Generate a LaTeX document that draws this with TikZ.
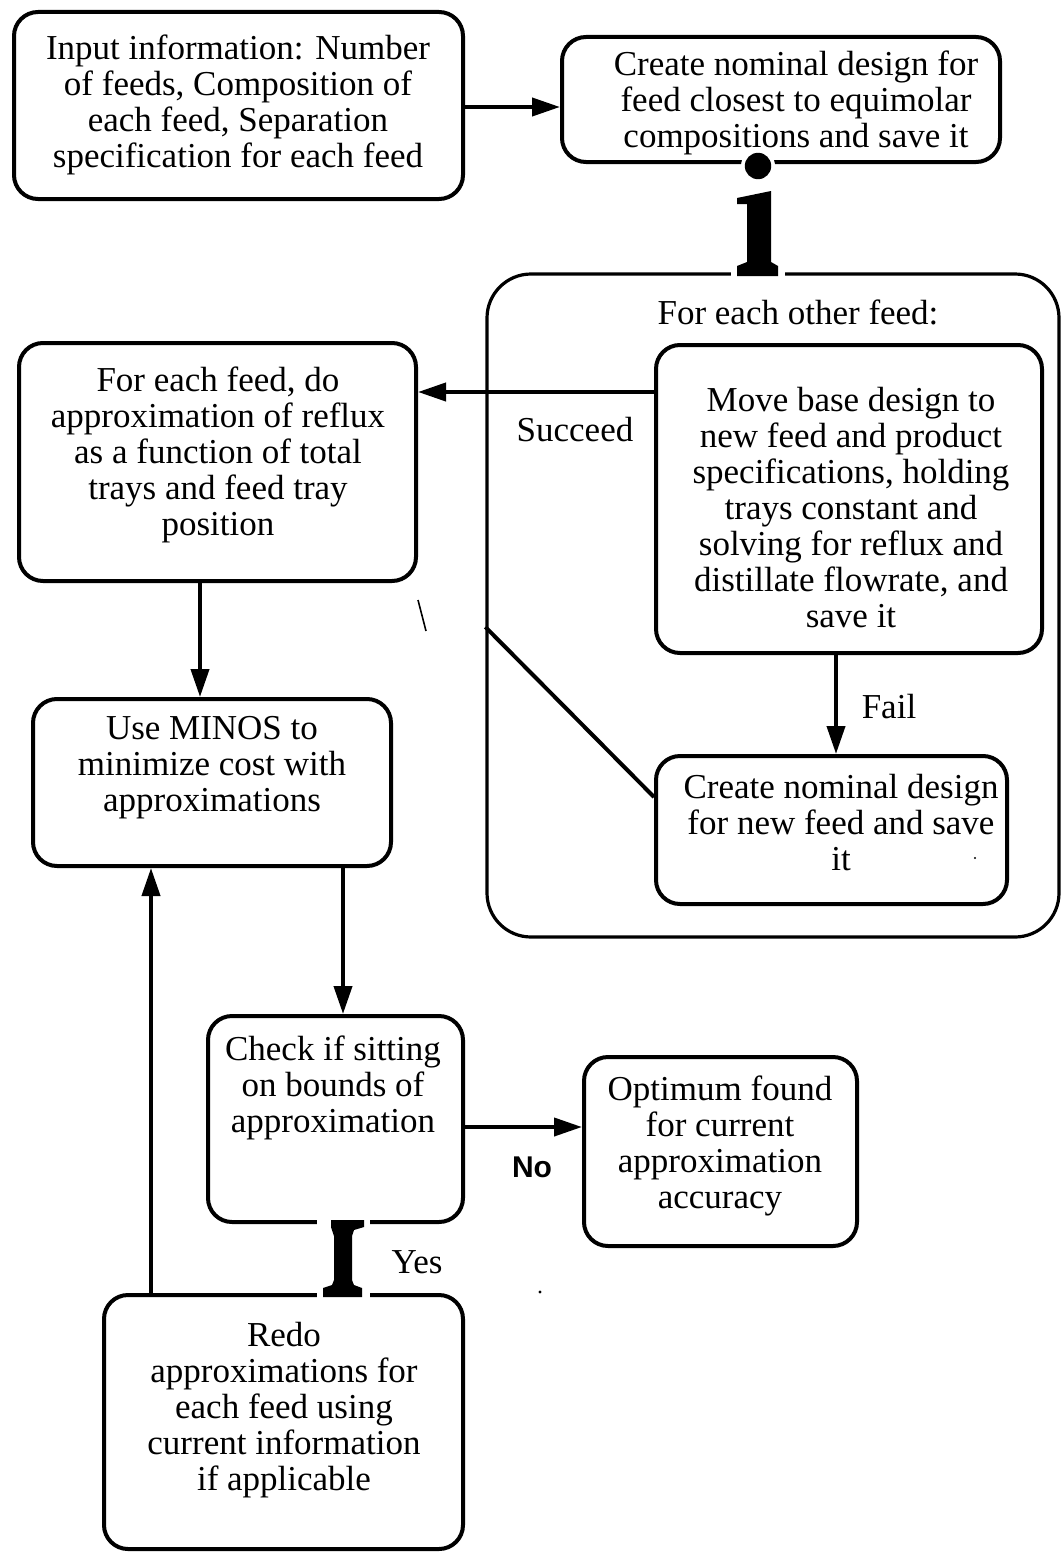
\documentclass[tikz,border=0pt]{standalone}
\usepackage{fontspec}
\setmainfont{Liberation Serif}
\newfontfamily\labelsans{Liberation Sans}
\usetikzlibrary{arrows.meta,fit}

\begin{document}
\begin{tikzpicture}[x=0.5pt,y=-0.5pt,
  box/.style={draw, line width=2pt, rounded corners=12pt, inner sep=0pt},
  groupbox/.style={draw, line width=1.6pt, rounded corners=22pt, inner sep=0pt},
  txt/.style={align=center, inner sep=0pt, font=\fontsize{17.5}{18}\selectfont},
  tag/.style={inner sep=0pt, font=\fontsize{17.5}{18}\selectfont},
  flow/.style={line width=2pt, -{Triangle[length=14pt,width=9pt]}},
  link/.style={line width=2pt},
]
\fill[white] (0,0) rectangle (1062,1552);
\useasboundingbox (0,0) rectangle (1062,1552);

% boxes
\node[box, fit={(14,12) (463,199)}] (inp) {};
\node[box, fit={(562,37) (1000,162)}] (nom) {};
\node[groupbox, fit={(487,274) (1059,937)}] (grp) {};
\node[box, fit={(19,343) (416,581)}] (appr) {};
\node[box, fit={(656,345) (1042,653)}] (move) {};
\node[box, fit={(656,756) (1007,904)}] (newd) {};
\node[box, fit={(33,699) (391,866)}] (minos) {};
\node[box, fit={(208,1016) (463,1222)}] (check) {};
\node[box, fit={(584,1057) (857,1246)}] (opt) {};
\node[box, fit={(104,1295) (463,1549)}] (redo) {};

% box texts
\node[txt] (t-inp) at (238,105) {Input information: Number\\of feeds, Composition of\\each feed, Separation\\specification for each feed};
\node[txt] (t-nom) at (796,103) {Create nominal design for\\feed closest to equimolar\\compositions and save it};
\node[tag] (t-grp) at (798,312) {For each other feed:};
\node[txt] (t-appr) at (218,455) {For each feed, do\\approximation of reflux\\as a function of total\\trays and feed tray\\position};
\node[txt] (t-move) at (851,508) {Move base design to\\new feed and product\\specifications, holding\\trays constant and\\solving for reflux and\\distillate flowrate, and\\save it};
\node[txt] (t-newd) at (841,823) {Create nominal design\\for new feed and save\\it};
\node[txt] (t-minos) at (212,768) {Use MINOS to\\minimize cost with\\approximations};
\node[txt] (t-check) at (333,1088) {Check if sitting\\on bounds of\\approximation};
\node[txt] (t-opt) at (720,1146) {Optimum found\\for current\\approximation\\accuracy};
\node[txt] (t-redo) at (284,1410) {Redo\\approximations for\\each feed using\\current information\\if applicable};

% connectors
\draw[flow] (inp.east |- 0,107) -- (nom.west |- 0,107);
\draw[flow] (move.west |- 0,392) -- (appr.east |- 0,392);
\draw[flow] (appr.south -| 200,0) -- (minos.north -| 200,0);
\draw[flow] (minos.south -| 343,0) -- (check.north -| 343,0);
\draw[flow] (redo.north -| 151,0) -- (minos.south -| 151,0);
\draw[flow] (check.east |- 0,1127) -- (opt.west |- 0,1127);
\draw[flow] (move.south -| 836,0) -- (newd.north -| 836,0);
\draw[link] (grp.west |- 0,627) -- (newd.west |- 0,797);

% connector labels
\node[tag] (succ) at (575,430) {Succeed};
\node[tag] (fail) at (889,707) {Fail};
\node[tag] (yes) at (417,1262) {Yes};
\node[inner sep=0pt, font=\labelsans\bfseries\fontsize{15}{15}\selectfont] (no) at (532,1167) {No};

% heavy "i" link from the nominal design into the loop
\fill[white] (758,166) circle[radius=8.5pt];
\fill (758,166) circle[radius=6.6pt];
\fill[white] (731,268) rectangle (785,279);
\fill (737,198) -- (771,191) -- (771,262) -- (778,266) -- (778,276) -- (737,276)
      -- (737,266) -- (747,262) -- (747,204) -- (737,204) -- cycle;

% heavy "I" link from the bound check to the redo step
\fill[white] (317,1216) rectangle (370,1228);
\fill[white] (317,1288) rectangle (370,1300);
\fill (331,1220) -- (364,1220) -- (364,1227) -- (354,1230) -- (352,1236)
      -- (352,1280) -- (354,1285) -- (362,1288) -- (362,1297) -- (323,1297)
      -- (323,1288) -- (332,1285) -- (334,1280) -- (334,1236) -- (332,1230)
      -- (331,1227) -- cycle;

% small marks
\draw[line width=0.8pt] (418,600) -- (426,631);
\fill (540,1292) circle[radius=0.8pt];
\fill (975,858) circle[radius=0.6pt];
\end{tikzpicture}
\end{document}
